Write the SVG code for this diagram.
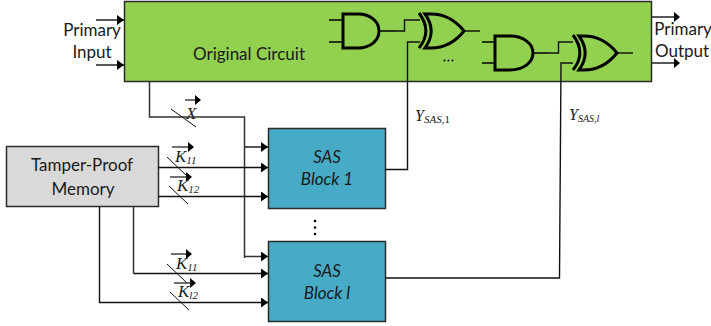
<svg xmlns="http://www.w3.org/2000/svg" width="711" height="326" viewBox="0 0 711 326">
<defs>
<marker id="ah" markerUnits="userSpaceOnUse" markerWidth="8" markerHeight="10" refX="7" refY="5" orient="auto"><path d="M0,0 L7,5 L0,10 Z" fill="#000"/></marker>
<marker id="ah2" markerUnits="userSpaceOnUse" markerWidth="8" markerHeight="10" refX="6" refY="5" orient="auto"><path d="M1,0 L7,5 L1,10 Z" fill="#000"/></marker>
</defs>
<style>
text{font-family:Lato,"Open Sans","Liberation Sans",sans-serif;font-size:17px;fill:#1a1a1a;text-anchor:middle}
.box{stroke:#2b2b2b;stroke-width:1.5}
.w{fill:none;stroke:#111;stroke-width:1.4}
.g{fill:none;stroke:#333;stroke-width:1.5}
.gate{fill:none;stroke:#000;stroke-width:3}
.pin{fill:none;stroke:#000;stroke-width:1.3}
.s{stroke:#111;stroke-width:1;fill:none}
.v{stroke:#222;stroke-width:1.300;fill:none}
.m{font-family:"Liberation Serif",serif;font-style:italic;fill:#222;text-anchor:start}
.i{font-style:italic}
</style>
<g id="original-circuit">
<rect class="box" x="124.500" y="1.500" width="527" height="80" fill="#92d050"/>
<text x="249" y="60">Original Circuit</text>
</g>
<g id="gate-and-1"><path class="gate" d="M343,14 H358 C371,14 379,22 379,31 C379,40 371,48 358,48 H343 Z"/><path class="pin" d="M329,20 H343 M329,42 H343 M379,31 H396"/></g>
<g id="gate-xor-1"><path class="gate" d="M425,14 H431 C445,14 456,21 464,31 C456,41 445,48 431,48 H425 C433,37 433,25 425,14 Z M419,13 C428,25 428,37 419,48"/><path class="pin" d="M464,31 H480"/></g>
<g id="gate-and-2"><path class="gate" d="M495,36 H510 C524,36 533,44 533,53 C533,62 524,70 510,70 H495 Z"/><path class="pin" d="M482,42 H495 M482,63 H495 M533,53 H549"/></g>
<g id="gate-xor-2"><path class="gate" d="M579,36 H584 C598,36 609,43 617,53 C609,63 598,70 584,70 H579 C587,59 587,47 579,36 Z M573,35 C582,47 582,59 573,70"/><path class="pin" d="M617,53 H633"/></g>
<g id="memory">
<rect class="box" x="6.500" y="146.500" width="152" height="60" fill="#d9d9d9"/>
<text x="82" y="171">Tamper-Proof</text>
<text x="83" y="195">Memory</text>
</g>
<g id="sas-block-1">
<rect class="box" x="268.500" y="128.500" width="117" height="80" fill="#47aac6"/>
<text class="i" x="327" y="163">SAS</text>
<text class="i" x="327" y="185">Block 1</text>
</g>
<g id="sas-block-l">
<rect class="box" x="268.500" y="241.500" width="117" height="80" fill="#47aac6"/>
<text class="i" x="327" y="277">SAS</text>
<text class="i" x="327" y="299">Block l</text>
</g>
<g id="connectors">
<path class="w" d="M96,20 H124" marker-end="url(#ah)"/>
<path class="w" d="M96,65 H124" marker-end="url(#ah)"/>
<path class="w" d="M652,17 H679" marker-end="url(#ah2)"/>
<path class="w" d="M652,63 H679" marker-end="url(#ah2)"/>
<path class="g" d="M149.500,82 V117 H244.500 V258"/>
<path class="w" d="M244.500,147 H268" marker-end="url(#ah)"/>
<path class="w" d="M158,167.500 H268" marker-end="url(#ah)"/>
<path class="w" d="M158,196.500 H268" marker-end="url(#ah)"/>
<path class="g" d="M244.500,256.500 H268" marker-end="url(#ah)"/>
<path class="g" d="M133.500,207 V273.500"/>
<path class="w" d="M133.500,273.500 H268" marker-end="url(#ah)"/>
<path class="w" d="M99.500,207 V302.500 H268" marker-end="url(#ah)"/>
<path class="w" d="M385,169.500 H407.500 V42 H420"/>
<path class="w" d="M385,278 H559.500 L561,63 H573"/>
<path class="w" d="M396,31 H404.500 V20 H420"/>
<path class="w" d="M549,53 H558.500 V42 H573"/>
<path class="s" d="M171,109 L196,127 M167,157 L188,177 M169,186 L188,204 M167,264 L187,283 M170,292 L189,310"/>
<path class="v" d="M185,100 H200" marker-end="url(#ah2)"/>
<path class="v" d="M172,147 H193" marker-end="url(#ah2)"/>
<path class="v" d="M170,177 H191" marker-end="url(#ah2)"/>
<path class="v" d="M171,254 H191" marker-end="url(#ah2)"/>
<path class="v" d="M174,283 H195" marker-end="url(#ah2)"/>
</g>
<g id="labels">
<text x="92" y="36">Primary</text>
<text x="92" y="58">Input</text>
<text x="683" y="35">Primary</text>
<text x="682" y="57">Output</text>
<text x="186" y="119" class="m" style="font-size:17px">X</text>
<text x="175" y="162" class="m" style="font-size:17px">K<tspan font-size="11" dy="2">11</tspan></text>
<text x="177" y="191" class="m" style="font-size:17px">K<tspan font-size="11" dy="2">12</tspan></text>
<text x="176" y="269" class="m" style="font-size:17px">K<tspan font-size="11" dy="2">11</tspan></text>
<text x="178" y="297" class="m" style="font-size:17px">K<tspan font-size="11" dy="2">l2</tspan></text>
<text x="415" y="121" class="m" style="font-size:16px">Y<tspan font-size="11" dy="2">SAS,</tspan><tspan font-size="11" font-style="normal">1</tspan></text>
<text x="569" y="120" class="m" style="font-size:16px">Y<tspan font-size="10" dy="2">SAS,l</tspan></text>
<circle cx="444.500" cy="60.500" r="1" fill="#000"/><circle cx="448.500" cy="60.500" r="1" fill="#000"/><circle cx="452.500" cy="60.500" r="1" fill="#000"/>
<circle cx="315" cy="221" r="1.300" fill="#000"/><circle cx="315" cy="227.500" r="1.300" fill="#000"/><circle cx="315" cy="234" r="1.300" fill="#000"/>
</g>
</svg>
